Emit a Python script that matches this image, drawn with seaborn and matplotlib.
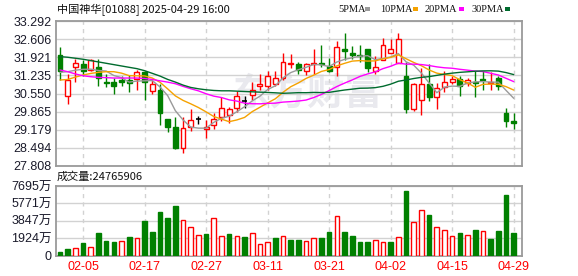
import numpy as np
import pandas as pd
import matplotlib
matplotlib.use("Agg")
import matplotlib.pyplot as plt
from matplotlib.patches import Rectangle
import seaborn as sns

# ---------------- data ----------------
dates = ["01-28", "02-03", "02-04", "02-05", "02-06", "02-07", "02-10", "02-11", "02-12", "02-13",
         "02-14", "02-17", "02-18", "02-19", "02-20", "02-21", "02-24", "02-25", "02-26", "02-27",
         "02-28", "03-03", "03-04", "03-05", "03-06", "03-07", "03-10", "03-11", "03-12", "03-13",
         "03-14", "03-17", "03-18", "03-19", "03-20", "03-21", "03-24", "03-25", "03-26", "03-27",
         "03-28", "03-31", "04-01", "04-02", "04-03", "04-07", "04-08", "04-09", "04-10", "04-11",
         "04-14", "04-15", "04-16", "04-17", "04-22", "04-23", "04-24", "04-25", "04-28", "04-29"]
opens = [32.00, 30.45, 31.55, 31.65, 31.45, 31.55, 31.00, 31.00, 31.05, 31.05,
         31.10, 31.35, 30.65, 30.70, 29.60, 29.30, 28.50, 29.30, 29.60, 29.20,
         29.35, 29.65, 29.75, 30.00, 30.25, 30.50, 30.85, 30.85, 30.90, 31.15,
         31.65, 31.65, 31.40, 31.65, 31.70, 31.60, 31.55, 32.25, 32.10, 32.00,
         32.25, 31.40, 31.80, 32.10, 31.70, 31.20, 29.95, 30.30, 30.90, 30.40,
         30.80, 31.00, 31.10, 30.95, 31.00, 31.10, 30.95, 31.15, 29.80, 29.50]
highs = [32.30, 31.30, 31.85, 31.80, 31.85, 31.85, 31.30, 31.15, 31.20, 31.25,
         31.45, 31.40, 31.05, 30.90, 29.60, 29.65, 29.65, 29.95, 29.70, 29.55,
         29.80, 30.40, 30.05, 30.65, 30.45, 31.00, 31.30, 31.40, 31.40, 32.10,
         32.05, 31.75, 31.70, 32.25, 32.40, 31.90, 32.55, 32.85, 32.35, 32.40,
         32.25, 31.95, 32.65, 32.60, 32.85, 31.75, 30.95, 31.50, 31.65, 30.95,
         31.40, 31.20, 31.20, 31.15, 31.40, 31.40, 31.35, 31.20, 30.00, 29.80]
lows = [31.05, 30.15, 31.00, 31.20, 31.40, 30.85, 30.80, 30.55, 30.85, 30.60,
        30.70, 30.30, 30.55, 29.35, 29.10, 28.45, 28.30, 29.15, 29.40, 28.85,
        29.20, 29.50, 29.45, 29.85, 30.00, 30.30, 30.70, 30.70, 30.85, 31.05,
        31.50, 31.30, 31.25, 31.30, 31.55, 31.35, 31.20, 31.80, 31.85, 31.75,
        31.35, 31.30, 31.80, 32.10, 31.70, 29.80, 29.90, 29.75, 30.25, 29.95,
        30.60, 30.90, 30.45, 30.85, 30.40, 30.70, 30.70, 30.70, 29.30, 29.20]
closes = [31.40, 31.05, 31.70, 31.40, 31.80, 31.15, 30.95, 30.85, 31.00, 30.95,
          31.35, 31.00, 30.90, 29.80, 29.30, 28.50, 29.25, 29.55, 29.60, 29.30,
          29.60, 30.00, 29.95, 30.45, 30.25, 30.70, 30.90, 31.20, 31.15, 31.75,
          31.70, 31.45, 31.65, 31.70, 31.65, 31.40, 32.30, 32.15, 32.00, 31.95,
          31.50, 31.55, 32.40, 32.25, 32.60, 29.95, 30.90, 30.90, 30.40, 30.75,
          31.00, 31.10, 30.85, 31.05, 30.95, 31.05, 31.00, 30.85, 29.50, 29.45]
volumes = [370, 703, 777, 1369, 925, 2479, 1591, 1480, 1591, 2035,
           1887, 3810, 2590, 4846, 4180, 5512, 3921, 3145, 2220, 2405,
           4107, 2109, 2368, 2109, 1998, 2479, 1221, 1480, 1924, 2109,
           1702, 1702, 1591, 1887, 1924, 2627, 4365, 2627, 2146, 1517,
           1517, 1702, 1517, 1517, 2035, 7177, 3700, 5031, 4513, 3145,
           2812, 2146, 2516, 2257, 2812, 2701, 1813, 2701, 6733, 2476.5906]  # 万股
# moving-average values read off the chart before enough closes exist
ma5_head = [31.35, 31.375, 31.43, 31.465]
ma10_head = [31.06, 31.08, 31.17, 31.25, 31.31, 31.35, 31.375, 31.375, 31.32]
ma20_head = [31.44, 31.375, 31.29, 31.22, 31.185, 31.16, 31.15, 31.135, 31.135, 31.135,
             31.135, 31.12, 31.08, 31.03, 30.98, 30.92, 30.82, 30.73, 30.65]
ma30_head = [31.946, 31.921, 31.883, 31.845, 31.794, 31.744, 31.693, 31.642, 31.591, 31.540,
             31.490, 31.413, 31.312, 31.210, 31.083, 30.982, 30.868, 30.779, 30.728, 30.690,
             30.665, 30.652, 30.652, 30.639, 30.627, 30.614, 30.601, 30.589, 30.576]
price_ticks = [27.808, 28.494, 29.179, 29.865, 30.550, 31.235, 31.921, 32.606, 33.292]
vol_ticks = [0, 1924, 3847, 5771, 7695]
vol_tick_labels = ["0", "1924万", "3847万", "5771万", "7695万"]
date_ticks = ["02-05", "02-17", "02-27", "03-11", "03-21", "04-02", "04-15", "04-29"]
title_text = "中国神华[01088] 2025-04-29 16:00"
last_volume = 24765906
ma_names = ["5PMA", "10PMA", "20PMA", "30PMA"]

# ---------------- styling ----------------
sns.set_theme(style="white")
plt.rcParams["font.family"] = ["Liberation Sans", "Noto Sans CJK SC", "DejaVu Sans"]

RED = "#ff0000"
GREEN = "#008000"
MA_COLORS = {"5PMA": "#9a9a9a", "10PMA": "#f5a200", "20PMA": "#ff00ff", "30PMA": "#006b2e"}
SPINE = "#9a9a9a"
GRID = "#d2d2d2"

W, H = 578, 276
fig = plt.figure(figsize=(W / 100, H / 100), dpi=100)
fig.patch.set_facecolor("white")

L, R = 56, 522
ax = fig.add_axes([L / W, 1 - 166 / H, (R - L) / W, (166 - 21) / H])
axv = fig.add_axes([L / W, 1 - 255.5 / H, (R - L) / W, (255.5 - 186) / H])

n = len(closes)
x = np.arange(n)
xlim = (-0.52, n + 0.08)

# watermark
ax.text(0.54, 0.5, "东方财富", transform=ax.transAxes, ha="center", va="center",
        fontsize=27, fontweight="bold", color="#e9e9ee", family=["Noto Sans CJK SC"], zorder=0)

# moving averages
cs = pd.Series(closes, dtype=float)
heads = {"5PMA": ma5_head, "10PMA": ma10_head, "20PMA": ma20_head, "30PMA": ma30_head}
rows = []
for name, win in zip(ma_names, [5, 10, 20, 30]):
    m = cs.rolling(win).mean().to_numpy()
    m[:win - 1] = heads[name]
    for i in range(n):
        rows.append({"idx": i, "value": m[i], "ma": name})
ma_df = pd.DataFrame(rows)

# candles
bw = 0.64
for i in range(n):
    o, h, l, c = opens[i], highs[i], lows[i], closes[i]
    if c > o:
        col, fc = RED, "white"
    elif c < o:
        col, fc = GREEN, GREEN
    else:
        col, fc = "black", "black"
    ax.vlines(i, l, h, color=col, lw=1.0, zorder=3)
    if c == o:
        ax.hlines(c, i - bw / 2, i + bw / 2, color=col, lw=1.2, zorder=4)
    else:
        ax.add_patch(Rectangle((i - bw / 2, min(o, c)), bw, abs(c - o), facecolor=fc,
                               edgecolor=col, lw=1.0, zorder=4))

sns.lineplot(data=ma_df, x="idx", y="value", hue="ma", palette=MA_COLORS, hue_order=ma_names,
             legend=False, ax=ax, lw=1.0, zorder=5)

ax.set_xlim(*xlim)
ax.set_ylim(price_ticks[0], price_ticks[-1])
ax.set_yticks(price_ticks)
ax.set_yticklabels([f"{t:.3f}" for t in price_ticks], fontsize=9, color="#1a1a2a")
tick_pos = [dates.index(d) for d in date_ticks]
ax.set_xticks(tick_pos)
ax.set_xticklabels([])
ax.set_xlabel("")
ax.set_ylabel("")

# volume
vb = 0.6
for i in range(n):
    ref = opens[i] if i == 0 else closes[i - 1]
    up = closes[i] >= ref
    if up:
        axv.bar(i, volumes[i], width=vb, facecolor="white", edgecolor=RED, lw=1.0, zorder=3)
    else:
        axv.bar(i, volumes[i], width=vb, facecolor=GREEN, edgecolor=GREEN, lw=1.0, zorder=3)
axv.set_xlim(*xlim)
axv.set_ylim(0, vol_ticks[-1])
axv.set_yticks(vol_ticks)
axv.set_yticklabels(vol_tick_labels, fontsize=9, color="#1a1a2a")
axv.set_xticks(tick_pos)
axv.set_xticklabels(date_ticks, fontsize=9, color=RED)

for a in (ax, axv):
    a.set_facecolor("white")
    for s in a.spines.values():
        s.set_color(SPINE)
        s.set_linewidth(1.3)
        s.set_visible(True)
    a.tick_params(axis="both", length=0, pad=3)
    a.grid(False)
    for t in a.get_yticks():
        a.axhline(t, color=GRID, lw=1.0, zorder=1)
    for p in tick_pos:
        a.axvline(p, color=GRID, lw=1.0, ls=(0, (3, 3)), zorder=1)
axv.tick_params(axis="x", pad=4)

# titles
fig.text(57 / W, 1 - 10 / H, title_text, ha="left", va="center", fontsize=8, color="#111111",
         family=["Noto Sans CJK SC", "DejaVu Sans"])
fig.text(57 / W, 1 - 177 / H, f"成交量:{last_volume}", ha="left", va="center", fontsize=8,
         color="#111111", family=["Noto Sans CJK SC", "DejaVu Sans"])

# legend
leg_x = [338, 380, 425, 472]
sq_x = [365, 413, 459, 505]
for name, tx, sx in zip(ma_names, leg_x, sq_x):
    fig.text(tx / W, 1 - 9 / H, name, ha="left", va="center", fontsize=7.5,
             color="#111111", family=["Liberation Serif"])
    fig.patches.append(Rectangle((sx / W, 1 - 10.5 / H), 5 / W, 3 / H, transform=fig.transFigure,
                                 facecolor=MA_COLORS[name], edgecolor="none"))

fig.savefig("out.png", dpi=100, facecolor="white")
